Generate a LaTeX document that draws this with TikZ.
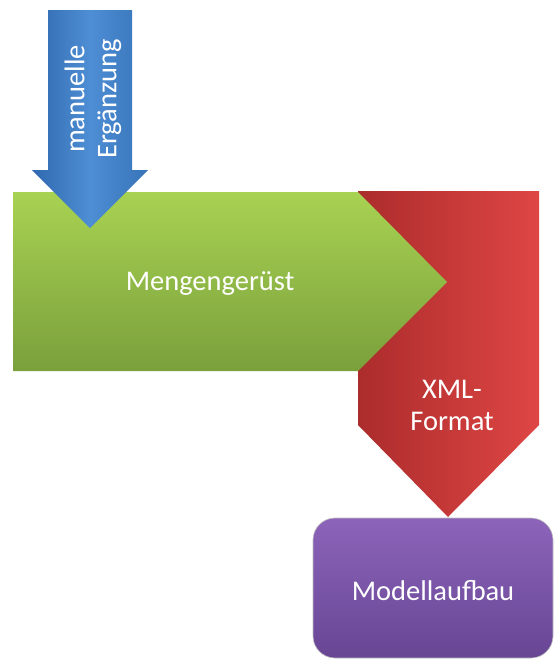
\documentclass[tikz,border=0pt]{standalone}
\usepackage{fontspec}
\setmainfont{Carlito}
\begin{document}
\begin{tikzpicture}[x=1pt,y=-1pt,
  lbl/.style={text=white,font=\fontsize{28.5}{32}\selectfont,align=center,inner sep=0pt}]
\useasboundingbox (0,0) rectangle (556,662);
% purple box
\path[top color={rgb,255:red,140;green,100;blue,186}, bottom color={rgb,255:red,104;green,70;blue,148},
  rounded corners=22pt]
  (313,518) rectangle (553,658);
\path[draw=black!25, line width=0.6pt, rounded corners=22pt] (313,518) rectangle (553,658);
% red arrow
\path[left color={rgb,255:red,172;green,44;blue,44}, right color={rgb,255:red,222;green,70;blue,68}]
  (358,191) -- (539,191) -- (539,425) -- (448,517) -- (358,425) -- cycle;
% green pentagon
\path[top color={rgb,255:red,168;green,210;blue,82}, bottom color={rgb,255:red,122;green,160;blue,60}]
  (13,192) -- (358,192) -- (447,282) -- (358,371) -- (13,371) -- cycle;
% blue arrow
\path[left color={rgb,255:red,48;green,105;blue,175}, right color={rgb,255:red,55;green,115;blue,185}, middle color={rgb,255:red,78;green,142;blue,212}]
  (48,10) -- (132,10) -- (132,170) -- (148,170) -- (90,228) -- (32,170) -- (48,170) -- cycle;
% texts
\node[lbl, rotate=90] (man) at (93,99) {manuelle\\Ergänzung};
\node[lbl] (menge) at (210,284) {Mengengerüst};
\node[lbl] (xml) at (452,405) {XML-\\Format};
\node[lbl] (modell) at (433,591) {Modellaufbau};
\end{tikzpicture}
\end{document}
